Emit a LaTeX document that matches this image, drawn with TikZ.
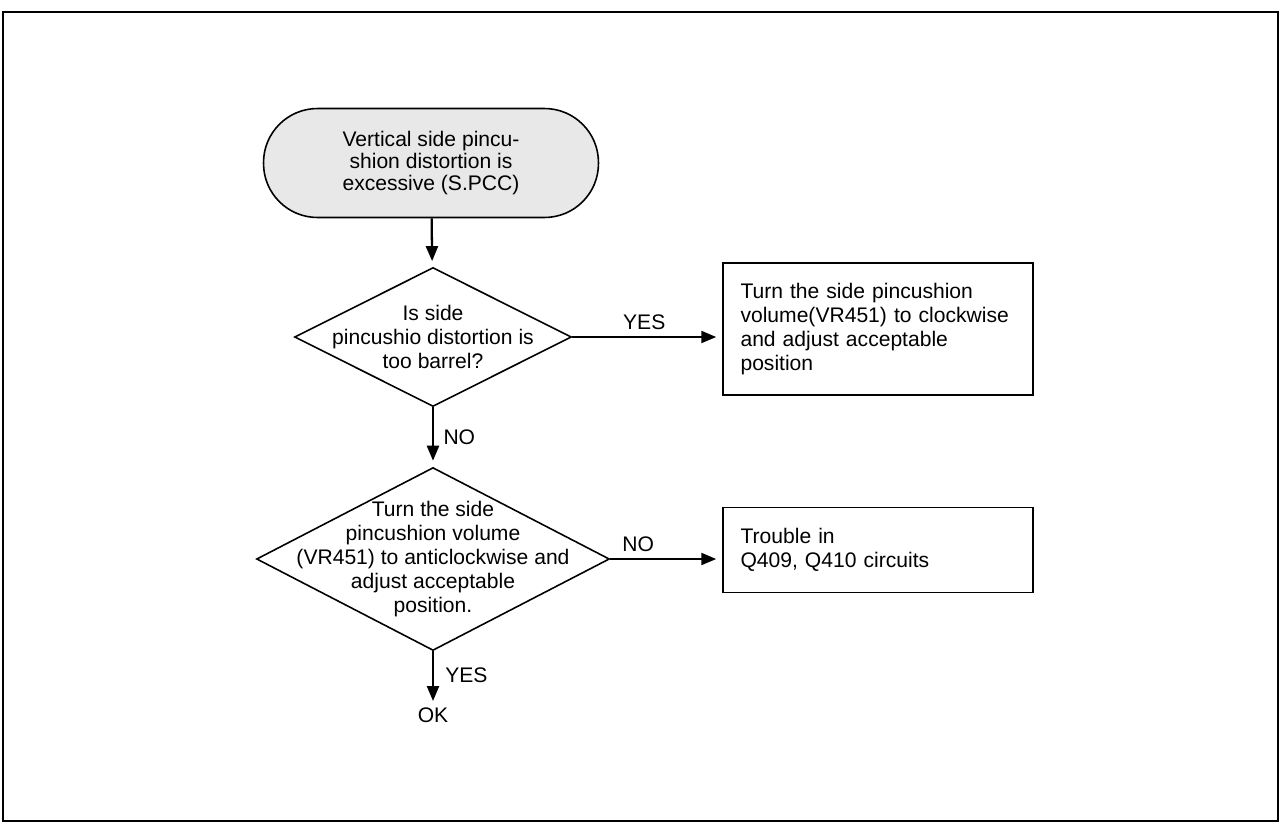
\documentclass[tikz,border=0pt]{standalone}
\usepackage{fontspec}
\setmainfont{Liberation Sans}
\usetikzlibrary{arrows.meta}
\usetikzlibrary{shapes.geometric}

\tikzset{
 flow/.style={line width=1.3pt, -{Triangle[length=0.3cm,width=0.24cm]}, shorten >=0.12cm},
 terminal/.style={draw, line width=0.9pt, fill=gray!18, rounded corners=1.08cm, minimum width=6.7cm, minimum height=2.18cm, align=center, font=\fontsize{12}{12.4}\selectfont},
 decision/.style={draw, diamond, line width=0.9pt, inner sep=0pt},
 action/.style={draw, line width=0.9pt, minimum width=6.2cm, text width=5.5cm, align=left, inner xsep=0.35cm}
}

\begin{document}
\begin{tikzpicture}[x=0.02cm, y=-0.02cm, font=\fontsize{12}{13.6}\selectfont]
\useasboundingbox (0,0) rectangle (1281,829);
\draw[line width=0.8pt] (3,12) rectangle (1278,821);

\node[terminal] (start) at (431,163) {Vertical side pincu-\\shion distortion is\\excessive (S.PCC)};
\node[decision, minimum width=5.54cm, minimum height=2.78cm,
 label={[align=center]center:{Is side\\pincushio distortion is\\too barrel?}}] (barrel) at (433,337) {};
\node[decision, minimum width=7.06cm, minimum height=3.66cm,
 label={[align=center]center:{Turn the side\\pincushion volume\\(VR451) to anticlockwise and\\adjust acceptable\\position.}}] (anticw) at (433,559) {};
\node[action, minimum height=2.64cm] (clockw) at (878,329) {Turn the side pincushion\\volume(VR451) to clockwise\\and adjust acceptable\\position};
\node[action, minimum height=1.7cm] (trouble) at (878,550) {Trouble in\\Q409, Q410 circuits};
\node[anchor=north, inner sep=0pt] (ok) at (433,707) {OK};

\draw[flow] (start) -- (barrel);
\draw[flow] (barrel) -- node[right, xshift=2pt] {NO} (anticw);
\draw[flow] (barrel.east) -- node[pos=0.48, above] {YES} (barrel.east -| clockw.west);
\draw[flow] (anticw.east) -- node[pos=0.25, above] {NO} (anticw.east -| trouble.west);
\draw[flow] (anticw) -- node[right, xshift=3pt, yshift=2pt] {YES} (ok);
\end{tikzpicture}
\end{document}
